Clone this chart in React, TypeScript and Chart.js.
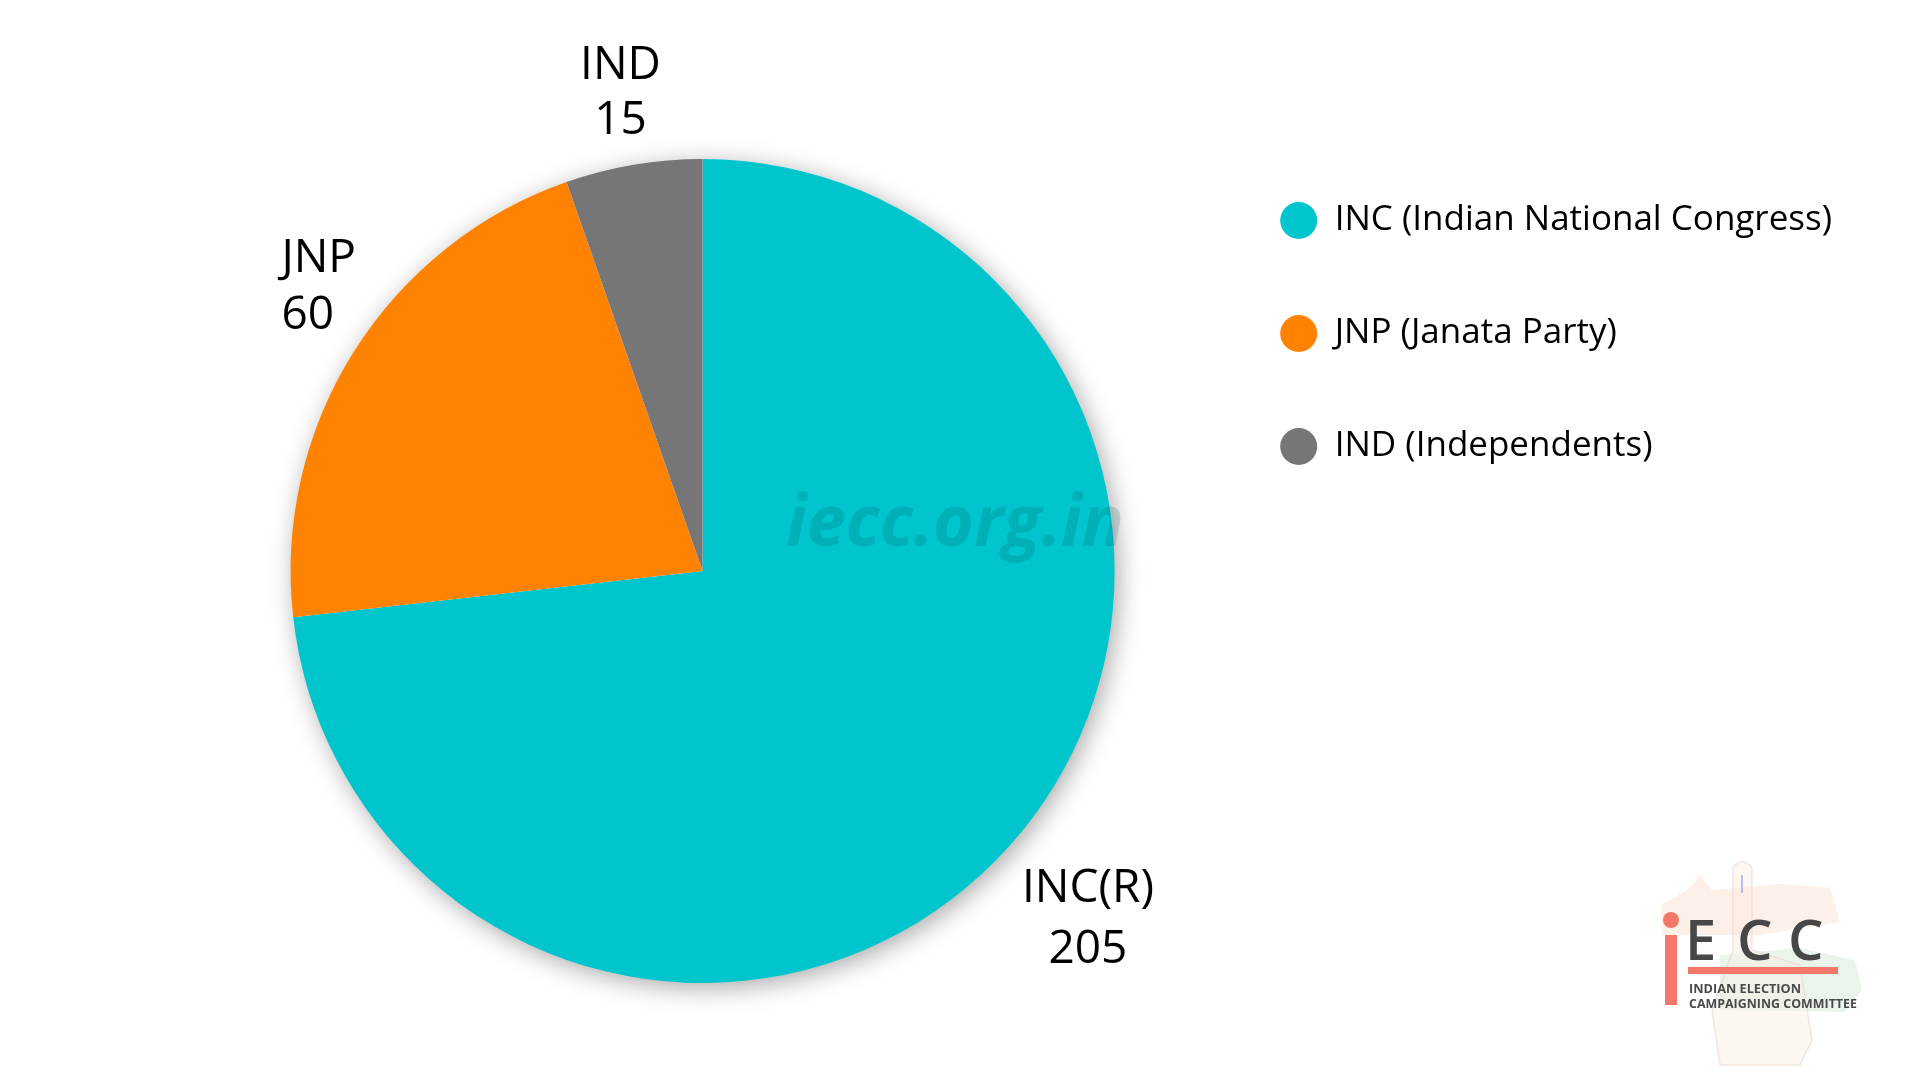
import React, { useEffect, useRef } from "react";
import { Chart, registerables } from "chart.js";

Chart.register(...registerables);

// ---- data ----
const categories = [
  "INC (Indian National Congress)",
  "JNP (Janata Party)",
  "IND (Independents)",
];
const shortLabels = ["INC(R)", "JNP", "IND"];
const seats = [205, 60, 15];
const colors = ["#00C5CC", "#FF8200", "#767676"];

const FONT = "'Open Sans', 'Noto Sans', sans-serif";

// soft shadow behind whole pie
const pieShadow = {
  id: "pieShadow",
  beforeDatasetsDraw(chart: any) {
    const meta = chart.getDatasetMeta(0);
    const arc = meta.data[0];
    if (!arc) return;
    const { x, y, outerRadius } = arc.getProps(["x", "y", "outerRadius"], true);
    const ctx = chart.ctx;
    ctx.save();
    ctx.shadowColor = "rgba(0,0,0,0.36)";
    ctx.shadowBlur = 26;
    ctx.shadowOffsetX = 4;
    ctx.shadowOffsetY = 5;
    ctx.fillStyle = "#ffffff";
    ctx.beginPath();
    ctx.arc(x, y, outerRadius - 1, 0, Math.PI * 2);
    ctx.fill();
    ctx.restore();
  },
};

// outside labels "name\nvalue"
const sliceLabels = {
  id: "sliceLabels",
  afterDatasetsDraw(chart: any) {
    const o = chart.options.plugins.sliceLabels;
    const meta = chart.getDatasetMeta(0);
    const ctx = chart.ctx;
    ctx.save();
    ctx.font = `${o.size}px ${FONT}`;
    ctx.fillStyle = "#000";
    ctx.textBaseline = "alphabetic";
    meta.data.forEach((arc: any, i: number) => {
      const { x, y, startAngle, endAngle, outerRadius } = arc.getProps(
        ["x", "y", "startAngle", "endAngle", "outerRadius"],
        true
      );
      const mid = (startAngle + endAngle) / 2;
      const d = outerRadius + o.gap;
      const cx = x + Math.cos(mid) * d + o.shift[i][0];
      const cy = y + Math.sin(mid) * d + o.shift[i][1];
      const lines = [shortLabels[i], String(chart.data.datasets[0].data[i])];
      const widths = lines.map((t) => ctx.measureText(t).width);
      const maxW = Math.max(...widths);
      const cap = o.size * 0.357;
      const lh = o.lineHeight[i];
      lines.forEach((t, k) => {
        const ly = cy + (k - (lines.length - 1) / 2) * lh + cap;
        if (o.align[i] === "left") {
          ctx.textAlign = "left";
          ctx.fillText(t, cx - maxW / 2, ly);
        } else {
          ctx.textAlign = "center";
          ctx.fillText(t, cx, ly);
        }
      });
    });
    ctx.restore();
  },
};

// watermark
const watermark = {
  id: "watermark",
  afterDatasetsDraw(chart: any) {
    const ctx = chart.ctx;
    ctx.save();
    ctx.font = `italic bold 72px ${FONT}`;
    ctx.fillStyle = "rgba(0,80,90,0.17)";
    ctx.textAlign = "left";
    ctx.textBaseline = "alphabetic";
    ctx.fillText("iecc.org.in", 786, 546, 338);
    ctx.restore();
  },
};

// logo bottom right
const logo = {
  id: "logo",
  afterDraw(chart: any) {
    const ctx = chart.ctx;
    ctx.save();
    // faint saffron band
    ctx.fillStyle = "rgba(248,196,165,0.25)";
    ctx.beginPath();
    ctx.moveTo(1662, 905);
    ctx.lineTo(1690, 888);
    ctx.lineTo(1700, 875);
    ctx.lineTo(1712, 890);
    ctx.lineTo(1780, 884);
    ctx.lineTo(1830, 888);
    ctx.lineTo(1840, 922);
    ctx.lineTo(1760, 935);
    ctx.lineTo(1662, 935);
    ctx.closePath();
    ctx.fill();
    // faint green band
    ctx.fillStyle = "rgba(185,218,190,0.3)";
    ctx.beginPath();
    ctx.moveTo(1720, 955);
    ctx.lineTo(1800, 948);
    ctx.lineTo(1855, 960);
    ctx.lineTo(1862, 990);
    ctx.lineTo(1845, 1012);
    ctx.lineTo(1720, 1010);
    ctx.closePath();
    ctx.fill();
    // faint hand / finger
    ctx.fillStyle = "rgba(250,238,226,0.45)";
    ctx.strokeStyle = "rgba(225,205,190,0.45)";
    ctx.lineWidth = 1.5;
    ctx.beginPath();
    ctx.moveTo(1733, 950);
    ctx.lineTo(1733, 868);
    ctx.quadraticCurveTo(1742, 855, 1752, 868);
    ctx.lineTo(1752, 950);
    ctx.lineTo(1800, 965);
    ctx.lineTo(1812, 1040);
    ctx.lineTo(1800, 1065);
    ctx.lineTo(1720, 1065);
    ctx.lineTo(1712, 1010);
    ctx.closePath();
    ctx.fill();
    ctx.stroke();
    ctx.strokeStyle = "rgba(140,150,230,0.6)";
    ctx.lineWidth = 2;
    ctx.beginPath();
    ctx.moveTo(1742, 875);
    ctx.lineTo(1742, 893);
    ctx.stroke();
    // red i
    ctx.fillStyle = "#F3786A";
    ctx.beginPath();
    ctx.arc(1671, 920, 8, 0, Math.PI * 2);
    ctx.fill();
    ctx.fillRect(1665, 935, 12, 70);
    ctx.fillRect(1688, 967, 150, 7);
    // ECC
    ctx.fillStyle = "#474747";
    ctx.font = `600 56px ${FONT}`;
    ctx.textAlign = "left";
    ctx.textBaseline = "alphabetic";
    ctx.fillText("E", 1685, 960);
    ctx.fillText("C", 1737, 960);
    ctx.fillText("C", 1788, 960);
    ctx.font = `bold 13px ${FONT}`;
    ctx.fillStyle = "#4a4a4a";
    ctx.fillText("INDIAN ELECTION", 1689, 993, 112);
    ctx.fillText("CAMPAIGNING COMMITTEE", 1689, 1008, 168);
    ctx.restore();
  },
};

export default function App() {
  const ref = useRef<HTMLCanvasElement | null>(null);

  useEffect(() => {
    document.body.style.margin = "0";
    const canvas = ref.current;
    if (!canvas) return;
    const chart = new Chart(canvas, {
      type: "pie",
      data: {
        labels: categories,
        datasets: [
          {
            data: seats,
            backgroundColor: colors,
            borderWidth: 0,
          },
        ],
      },
      options: {
        responsive: true,
        maintainAspectRatio: false,
        animation: false,
        devicePixelRatio: 1,
        radius: 412,
        layout: { padding: { left: 203, right: 78, top: 125, bottom: 63 } },
        plugins: {
          tooltip: { enabled: false },
          legend: {
            position: "right",
            align: "start",
            labels: {
              usePointStyle: true,
              pointStyle: "circle",
              boxHeight: 26,
              boxWidth: 26,
              pointStyleWidth: 37,
              padding: 78,
              color: "#000",
              font: { family: FONT, size: 35 },
            },
          },
          sliceLabels: {
            size: 46,
            lineHeight: [61, 57, 55],
            gap: 78,
            shift: [
              [20, 19],
              [31, -26],
              [0, 2],
            ],
            align: ["center", "left", "center"],
          },
        } as any,
      } as any,
      plugins: [pieShadow, sliceLabels, watermark, logo],
    });
    return () => chart.destroy();
  }, []);

  return (
    <div
      style={{
        position: "fixed",
        left: 0,
        top: 0,
        width: 1920,
        height: 1080,
        background: "#ffffff",
      }}
    >
      <canvas ref={ref} />
    </div>
  );
}
